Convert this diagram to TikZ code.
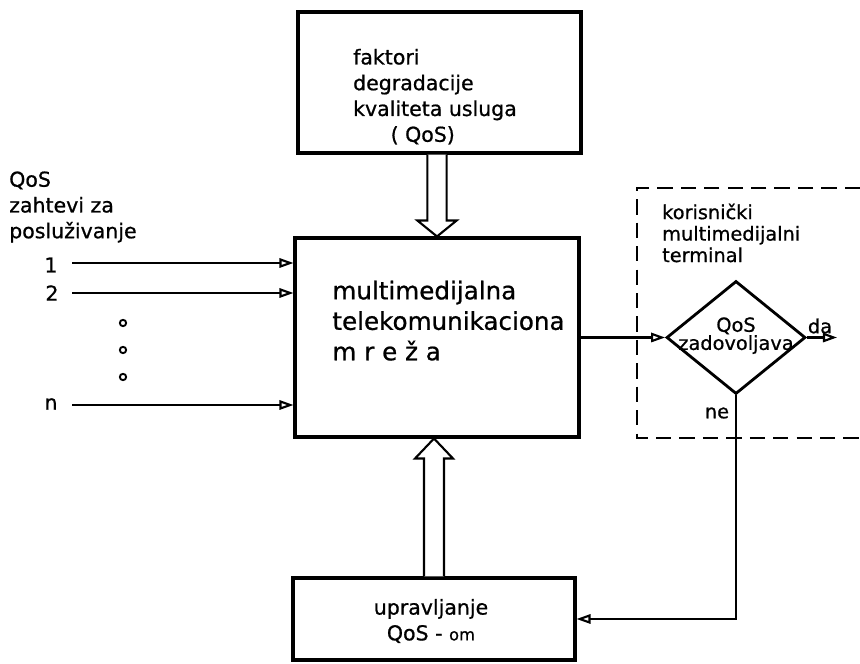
\documentclass[tikz,border=0pt]{standalone}
\usepackage{fontspec}
\setmainfont{DejaVu Sans}[FakeBold=0.8]
\usepackage{tikz}
\usetikzlibrary{arrows.meta, positioning, shapes.geometric, calc}

\begin{document}
\begin{tikzpicture}[
  blockbox/.style={rectangle, draw, line width=2.6pt, inner sep=0pt},
  smalltxt/.style={inner sep=0pt, font=\fontsize{17.5}{22}\selectfont},
  termtxt/.style={inner sep=0pt, font=\fontsize{16.5}{18.3}\selectfont},
  decision/.style={diamond, draw, line width=2.4pt, inner sep=0pt, minimum width=4.17cm, minimum height=3.39cm},
  inarrow/.style={-{Triangle[open, length=12pt, width=8pt]}, line width=1.8pt},
  fatarrow/.style={draw, line width=1.8pt, fill=white, line join=miter},
  dot/.style={circle, draw, line width=1.6pt, minimum size=0.19cm, inner sep=0pt},
  termframe/.style={dashed, dash pattern=on 13pt off 7pt, line width=1.7pt}
]
  \useasboundingbox (0,0) rectangle (25.8,19.92);
  % blocks
  \node[blockbox, minimum width=8.49cm, minimum height=4.23cm] (fak)   at (13.185,17.445) {};
  \node[blockbox, minimum width=8.52cm, minimum height=5.97cm] (mreza) at (13.11,9.795)  {};
  \node[blockbox, minimum width=8.46cm, minimum height=2.46cm] (upr)   at (13.02,1.35)   {};
  \node[smalltxt, align=left] (faktxt) at (13.05,17.02)
    {faktori\\degradacije\\kvaliteta usluga\\\hspace*{32pt}( QoS)};
  \node[inner sep=0pt, align=left, font=\fontsize{21}{26}\selectfont] (mrezatxt) at (13.455,10.3)
    {multimedijalna\\telekomunikaciona\\m r e ž a};
  \node[smalltxt, align=center] (uprtxt) at (12.93,1.29)
    {upravljanje\\QoS - {\fontsize{14}{22}\selectfont om}};
  % hollow arrows
  \coordinate (fs) at (mreza.north |- fak.south);
  \draw[fatarrow] ($(fs)+(-0.29,0)$) -- ($(mreza.north)+(-0.29,0.48)$) -- ($(mreza.north)+(-0.59,0.48)$)
    -- (mreza.north) -- ($(mreza.north)+(0.59,0.48)$) -- ($(mreza.north)+(0.29,0.48)$) -- ($(fs)+(0.29,0)$);
  \coordinate (ms) at (upr.north |- mreza.south);
  \draw[fatarrow] ($(upr.north)+(-0.3,0)$) -- ($(ms)+(-0.3,-0.6)$) -- ($(ms)+(-0.57,-0.6)$)
    -- (ms) -- ($(ms)+(0.57,-0.6)$) -- ($(ms)+(0.3,-0.6)$) -- ($(upr.north)+(0.3,0)$);
  % requests
  \node[smalltxt, anchor=west, align=left] (zahtevi) at (0.27,13.71) {QoS\\zahtevi za\\posluživanje};
  \node[smalltxt] (lab1) at (1.53,11.97) {1};
  \node[smalltxt] (lab2) at (1.56,11.13) {2};
  \node[smalltxt] (labn) at (1.53,7.8)   {n};
  \coordinate (in1) at (2.16,12.03);
  \coordinate (in2) at (2.16,11.13);
  \coordinate (inn) at (2.16,7.77);
  \draw[inarrow] (in1) -- (in1 -| mreza.west);
  \draw[inarrow] (in2) -- (in2 -| mreza.west);
  \draw[inarrow] (inn) -- (inn -| mreza.west);
  \node[dot] (d1) at (3.69,10.23) {};
  \node[dot] (d2) at (3.69,9.42)  {};
  \node[dot] (d3) at (3.69,8.61)  {};
  % terminal
  \draw[termframe] (25.8,14.28) -- (19.11,14.28) -- (19.11,6.78) -- (25.8,6.78);
  \node[termtxt, anchor=west, align=left] (termtxt) at (19.86,12.93)
    {korisnički\\multimedijalni\\terminal};
  \node[decision] (dia) at (22.08,9.795) {};
  \node[termtxt, align=center, font=\fontsize{16.5}{15.5}\selectfont] (diatxt) at (22.08,9.85) {QoS\\zadovoljava};
  \coordinate (daend) at (25.11,9.795);
  \draw[inarrow] (mreza.east) -- (dia.west);
  \draw[inarrow] (dia.east) -- (daend);
  \node[termtxt] (da) at (24.6,10.14) {da};
  \node[termtxt] (ne) at (21.51,7.53) {ne};
  \draw[inarrow] (dia.south) |- (upr.east);
\end{tikzpicture}
\end{document}
